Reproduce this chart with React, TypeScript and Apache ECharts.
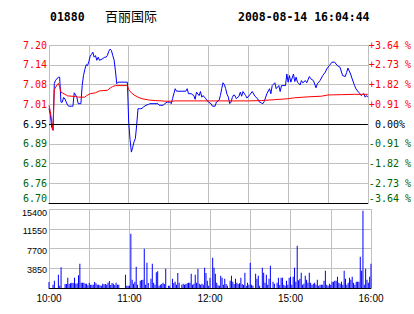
import React, { useEffect, useRef } from 'react';
import * as echarts from 'echarts';

const PREV_CLOSE = 6.95;
const stockCode = '01880';
const stockName = '百丽国际';
const stampText = '2008-08-14 16:04:44';

const priceMinutes = [0, 1, 2, 3, 4, 5, 7, 8, 9, 10, 11, 12, 13, 14, 15, 17, 18, 19, 20, 21, 22, 24, 25, 26, 27, 28, 29, 30, 31, 32, 33, 34, 35, 36, 37, 38, 40, 42, 43, 44, 45, 46, 47, 48, 49, 50, 51, 52, 59, 60, 61, 62, 63, 64, 65, 66, 67, 68, 69, 70, 71, 73, 75, 76, 82, 83, 86, 87, 89, 91, 92, 93, 95, 96, 103, 104, 105, 107, 109, 110, 111, 113, 114, 115, 116, 118, 120, 122, 123, 125, 126, 128, 129, 130, 131, 132, 133, 134, 135, 136, 137, 138, 139, 140, 141, 143, 144, 145, 146, 148, 149, 151, 153, 155, 157, 158, 160, 161, 162, 164, 166, 167, 168, 170, 171, 173, 174, 175, 178, 179, 180, 181, 182, 184, 185, 186, 187, 189, 190, 191, 193, 194, 196, 197, 199, 201, 202, 204, 206, 208, 209, 211, 213, 215, 217, 219, 221, 223, 224, 225, 227, 228, 230, 231, 233, 234, 235, 236, 237, 238, 239, 240];
const priceValues = [7.0, 6.98, 6.94, 6.93, 7.08, 7.09, 7.1, 7.1, 7.02, 7.02, 7.035, 7.03, 7.02, 7.01, 7.007, 7.007, 7.007, 7.05, 7.043, 7.035, 7.015, 7.015, 7.074, 7.106, 7.125, 7.14, 7.137, 7.15, 7.167, 7.173, 7.18, 7.164, 7.169, 7.154, 7.164, 7.154, 7.158, 7.164, 7.164, 7.17, 7.183, 7.19, 7.185, 7.169, 7.155, 7.12, 7.079, 7.084, 7.084, 6.956, 6.9, 6.86, 6.875, 6.893, 6.903, 6.947, 6.999, 6.999, 6.999, 7.0, 7.004, 7.01, 7.013, 7.015, 7.015, 7.01, 7.01, 7.015, 7.02, 7.02, 7.015, 7.031, 7.063, 7.055, 7.055, 7.063, 7.047, 7.047, 7.041, 7.029, 7.052, 7.041, 7.054, 7.036, 7.041, 7.031, 7.02, 7.015, 7.007, 7.007, 7.02, 7.026, 7.041, 7.063, 7.082, 7.076, 7.063, 7.045, 7.036, 7.015, 7.02, 7.035, 7.043, 7.041, 7.031, 7.039, 7.052, 7.039, 7.054, 7.041, 7.033, 7.043, 7.054, 7.039, 7.031, 7.022, 7.017, 7.015, 7.022, 7.047, 7.063, 7.047, 7.073, 7.082, 7.063, 7.073, 7.054, 7.073, 7.073, 7.11, 7.084, 7.105, 7.084, 7.11, 7.086, 7.1, 7.084, 7.075, 7.089, 7.082, 7.089, 7.082, 7.102, 7.095, 7.089, 7.066, 7.079, 7.089, 7.105, 7.116, 7.126, 7.137, 7.148, 7.148, 7.137, 7.132, 7.105, 7.102, 7.115, 7.129, 7.11, 7.097, 7.073, 7.063, 7.052, 7.047, 7.041, 7.045, 7.047, 7.036, 7.041, 7.036];

const avgMinutes = [0, 1, 3, 4, 6, 7, 8, 9, 12, 14, 20, 22, 27, 28, 31, 35, 38, 44, 46, 48, 50, 59, 60, 62, 64, 67, 70, 75, 80, 85, 88, 92, 95, 150, 160, 170, 180, 185, 195, 205, 210, 220, 230, 240];
const avgValues = [7.01, 6.99, 6.93, 7.06, 7.075, 7.08, 7.07, 7.052, 7.045, 7.04, 7.038, 7.036, 7.036, 7.04, 7.047, 7.05, 7.056, 7.058, 7.065, 7.07, 7.073, 7.073, 7.06, 7.05, 7.043, 7.036, 7.031, 7.027, 7.025, 7.024, 7.023, 7.023, 7.024, 7.024, 7.025, 7.028, 7.031, 7.034, 7.037, 7.039, 7.043, 7.044, 7.045, 7.045];

const volMinutes = [0, 3, 4, 7, 8, 9, 12, 13, 14, 15, 16, 17, 18, 19, 20, 21, 22, 23, 24, 25, 26, 27, 28, 29, 30, 31, 32, 33, 34, 35, 36, 37, 38, 39, 40, 41, 42, 43, 44, 45, 46, 47, 48, 49, 50, 51, 52, 57, 58, 59, 60, 61, 62, 63, 64, 65, 66, 68, 69, 70, 71, 72, 73, 74, 76, 77, 78, 79, 80, 81, 82, 83, 84, 85, 86, 87, 89, 90, 92, 93, 94, 95, 96, 97, 99, 100, 101, 102, 103, 104, 105, 106, 107, 108, 109, 110, 111, 112, 113, 114, 115, 116, 117, 118, 119, 120, 122, 123, 124, 125, 126, 127, 128, 129, 130, 131, 132, 133, 135, 136, 137, 138, 139, 140, 141, 142, 143, 144, 145, 146, 147, 148, 149, 150, 151, 152, 154, 155, 156, 157, 159, 160, 161, 162, 163, 164, 165, 167, 168, 170, 171, 172, 173, 174, 175, 176, 177, 178, 179, 180, 181, 182, 183, 184, 185, 186, 187, 188, 189, 190, 191, 192, 193, 194, 195, 196, 197, 198, 199, 200, 201, 202, 203, 204, 205, 206, 207, 208, 209, 210, 211, 212, 213, 214, 215, 216, 217, 218, 219, 220, 221, 222, 223, 224, 225, 226, 227, 228, 229, 230, 231, 232, 233, 234, 235, 236, 237, 238, 239, 240];
const volValues = [1170, 650, 1430, 2600, 455, 4030, 780, 780, 2015, 780, 910, 1040, 975, 2015, 845, 910, 2470, 4745, 1040, 1040, 1040, 845, 845, 520, 1040, 650, 650, 650, 1170, 910, 650, 650, 520, 455, 845, 715, 780, 650, 1040, 1365, 585, 975, 845, 585, 1040, 650, 650, 2600, 455, 455, 455, 10595, 1625, 845, 1235, 4160, 650, 1430, 1560, 1625, 7670, 650, 4940, 975, 1820, 4745, 1040, 650, 3055, 3250, 455, 650, 780, 1040, 780, 3770, 455, 455, 1820, 975, 1235, 650, 2925, 1040, 650, 845, 650, 780, 910, 1040, 1040, 2795, 650, 845, 2600, 1040, 3770, 845, 650, 845, 650, 3965, 2925, 1430, 455, 2015, 5915, 3965, 2795, 1040, 520, 455, 2405, 2015, 650, 1820, 780, 455, 1430, 2405, 1235, 780, 1820, 1040, 780, 910, 2015, 780, 585, 2990, 455, 1040, 650, 4940, 650, 455, 2795, 1820, 2405, 455, 3965, 2990, 1040, 2600, 650, 1820, 4355, 1235, 845, 1040, 2015, 585, 2015, 2015, 650, 455, 1430, 650, 2015, 2210, 650, 2210, 3965, 1235, 8255, 1495, 1820, 2990, 650, 845, 2405, 1625, 1040, 2990, 1040, 650, 845, 1040, 650, 1625, 455, 650, 650, 650, 1430, 3380, 650, 455, 845, 650, 1235, 1235, 1430, 1430, 2210, 1040, 845, 1235, 650, 3380, 1820, 650, 1040, 2015, 1625, 2210, 1040, 650, 1235, 1235, 1235, 6110, 3380, 15080, 650, 3770, 1625, 1040, 2210, 4745];

const timeTickMinutes = [0, 60, 120, 180, 240];
const timeTickLabels = ['10:00', '11:00', '12:00', '15:00', '16:00'];
const pctTickBp = [-364, -273, -182, -91, 0, 91, 182, 273, 364];
const volTickValues = [0, 3850, 7700, 11550, 15400];

const RED = '#ff0000';
const GREEN = '#006400';
const GRID_GRAY = '#c0c0c0';
const MONO = 'DejaVu Sans Mono';
const SANS = 'Liberation Sans, Arial, sans-serif';

const toBp = (p: number) => (p / PREV_CLOSE - 1) * 10000;

const monoRich = (color: string, padBottom: number) => ({
  color, fontFamily: MONO, fontSize: 10, padding: [0, 0, padBottom, 0],
});

export default function App() {
  const ref = useRef<HTMLDivElement>(null);
  useEffect(() => {
    if (!ref.current) return;
    const chart = echarts.init(ref.current, null, { renderer: 'svg' });
    const priceData = priceMinutes.map((m, i) => [m, toBp(priceValues[i])]);
    const avgData = avgMinutes.map((m, i) => [m, toBp(avgValues[i])]);
    const volData = volMinutes.map((m, i) => [m, volValues[i]]);
    const styleKey = (v: number) => {
      const r = Math.round(v);
      if (r === pctTickBp[0]) return 'low';
      if (r > 0) return 'up';
      if (r < 0) return 'dn';
      return 'mid';
    };
    const rich = {
      up: monoRich(RED, 0),
      dn: monoRich(GREEN, 0),
      mid: monoRich('#000000', 0),
      low: monoRich(GREEN, 10),
    };
    chart.setOption({
      animation: false,
      backgroundColor: '#ffffff',
      graphic: [
        { type: 'text', left: 50, top: 11, style: { text: stockCode, font: `bold 11.5px ${MONO}`, fill: '#000' } },
        { type: 'text', left: 105, top: 9, style: { text: stockName, font: `13px "Noto Sans CJK SC"`, fill: '#000' } },
        { type: 'text', left: 238, top: 11, style: { text: stampText, font: `bold 11.5px ${MONO}`, fill: '#000' } },
      ],
      grid: [
        { left: 49, top: 45, width: 322, height: 158, containLabel: false },
        { left: 49, top: 209, width: 322, height: 79, containLabel: false },
      ],
      xAxis: [
        {
          type: 'value', gridIndex: 0, min: 0, max: 240, interval: 30,
          axisLabel: { show: false }, axisTick: { show: false },
          axisLine: { show: true, onZero: false, lineStyle: { color: '#000', width: 1 } },
          splitLine: { show: true, showMinLine: true, showMaxLine: true, lineStyle: { color: GRID_GRAY, width: 1 } },
        },
        {
          type: 'value', gridIndex: 1, min: 0, max: 240, interval: 30,
          axisTick: { show: false },
          axisLine: { show: true, onZero: false, lineStyle: { color: '#000', width: 1 } },
          splitLine: { show: true, showMinLine: true, showMaxLine: true, lineStyle: { color: GRID_GRAY, width: 1 } },
          axisLabel: {
            show: true, showMinLabel: true, showMaxLabel: true, margin: 5,
            fontFamily: SANS, fontSize: 10, color: '#000',
            formatter: (v: number) => {
              const idx = timeTickMinutes.indexOf(Math.round(v));
              return idx >= 0 ? timeTickLabels[idx] : '';
            },
          },
        },
      ],
      yAxis: [
        {
          type: 'value', gridIndex: 0, position: 'left', min: pctTickBp[0], max: pctTickBp[pctTickBp.length - 1], interval: 91,
          axisLine: { show: false }, axisTick: { show: false },
          splitLine: { show: true, showMinLine: true, showMaxLine: true, lineStyle: { color: GRID_GRAY, width: 1 } },
          axisLabel: {
            margin: 2, fontFamily: MONO, fontSize: 10, showMinLabel: true, showMaxLabel: true,
            rich,
            formatter: (v: number) => `{${styleKey(v)}|${(PREV_CLOSE * (1 + v / 10000)).toFixed(2)}}`,
          },
        },
        {
          type: 'value', gridIndex: 0, position: 'right', min: pctTickBp[0], max: pctTickBp[pctTickBp.length - 1], interval: 91,
          axisLine: { show: false }, axisTick: { show: false }, splitLine: { show: false },
          axisLabel: {
            margin: 1, align: 'left', fontFamily: MONO, fontSize: 10, showMinLabel: true, showMaxLabel: true,
            rich,
            formatter: (v: number) => {
              const r = Math.round(v);
              const txt = r === 0 ? '\u00a00.00%' : (r > 0 ? '+' : '-') + (Math.abs(r) / 100).toFixed(2) + ' %';
              return `{${styleKey(v)}|${txt}}`;
            },
          },
        },
        {
          type: 'value', gridIndex: 1, min: volTickValues[0], max: volTickValues[volTickValues.length - 1], interval: 3850,
          axisLine: { show: false }, axisTick: { show: false },
          splitLine: { show: true, showMinLine: true, showMaxLine: true, lineStyle: { color: GRID_GRAY, width: 1 } },
          axisLabel: {
            margin: 2, showMinLabel: true, showMaxLabel: true,
            rich: {
              top: { fontFamily: SANS, fontSize: 9, color: '#000', padding: [8, 0, 0, 0] },
              v: { fontFamily: SANS, fontSize: 9, color: '#000', padding: [4, 0, 0, 0] },
            },
            formatter: (v: number) => {
              if (v === 0) return '';
              return v === volTickValues[volTickValues.length - 1] ? `{top|${v}}` : `{v|${v}}`;
            },
          },
        },
      ],
      series: [
        {
          type: 'line', xAxisIndex: 0, yAxisIndex: 0, data: priceData, showSymbol: false, symbol: 'none',
          lineStyle: { color: '#0000ff', width: 1 }, z: 3,
          markLine: {
            silent: true, symbol: 'none', label: { show: false },
            lineStyle: { color: '#000', width: 1, type: 'solid' },
            data: [{ yAxis: 0 }],
          },
        },
        {
          type: 'line', xAxisIndex: 0, yAxisIndex: 0, data: avgData, showSymbol: false, symbol: 'none',
          lineStyle: { color: RED, width: 1 }, z: 4,
        },
        {
          type: 'bar', xAxisIndex: 1, yAxisIndex: 2, data: volData, barWidth: 1,
          itemStyle: { color: '#0000ff' },
        },
      ],
    });
    return () => chart.dispose();
  }, []);
  return <div ref={ref} style={{ position: 'fixed', left: 0, top: 0, width: 414, height: 314, background: '#fff' }} />;
}
